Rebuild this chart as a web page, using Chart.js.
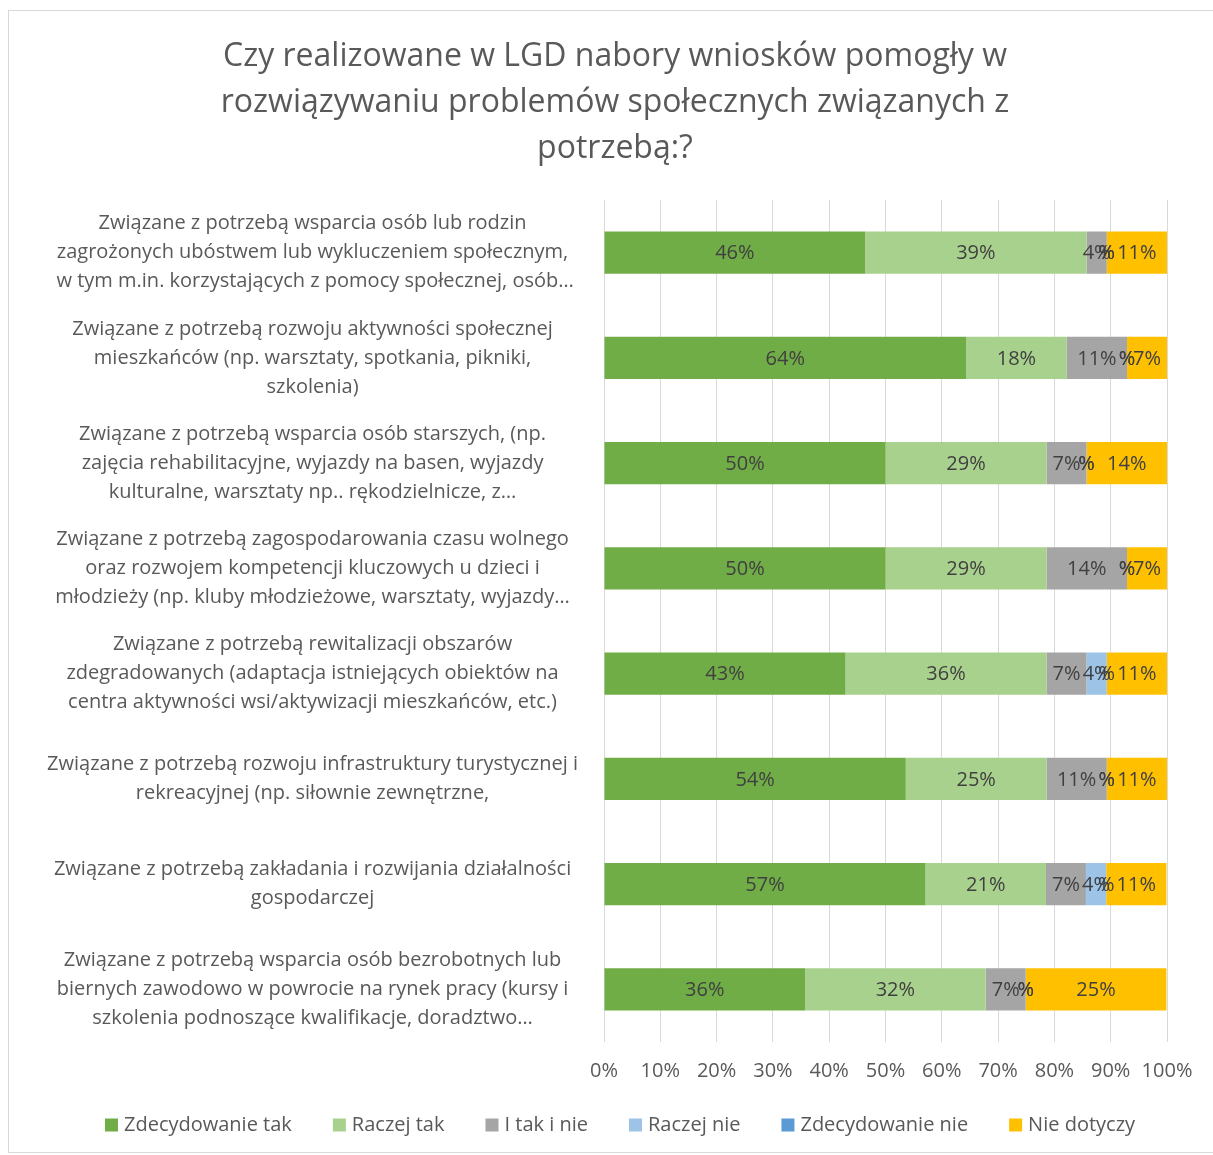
<!DOCTYPE html>
<html>
<head>
<meta charset="utf-8">
<script src="https://cdn.jsdelivr.net/npm/chart.js@4.4.0/dist/chart.umd.min.js"></script>
<style>
  body { margin: 0; background: #fff; }
  #wrap { position: relative; width: 1213px; height: 1155px; }
  #frame { position: absolute; left: 8px; top: 10px; width: 1210px; height: 1141px; border: 1px solid #d9d9d9; }
  canvas { position: absolute; left: 0; top: 0; }
</style>
</head>
<body>
<div id="wrap">
  <div id="frame"></div>
  <canvas id="myChart" width="1213" height="1155"></canvas>
</div>
<script>
// data
var categories = [
  ['Związane z potrzebą wsparcia osób lub rodzin', 'zagrożonych ubóstwem lub wykluczeniem społecznym,', ' w tym m.in. korzystających z pomocy społecznej, osób…'],
  ['Związane z potrzebą rozwoju aktywności społecznej', 'mieszkańców (np. warsztaty, spotkania, pikniki,', 'szkolenia)'],
  ['Związane z potrzebą wsparcia osób starszych, (np.', 'zajęcia rehabilitacyjne, wyjazdy na basen, wyjazdy', 'kulturalne, warsztaty np.. rękodzielnicze, z…'],
  ['Związane z potrzebą zagospodarowania czasu wolnego', 'oraz rozwojem kompetencji kluczowych u dzieci i', 'młodzieży (np. kluby młodzieżowe, warsztaty, wyjazdy…'],
  ['Związane z potrzebą rewitalizacji obszarów', 'zdegradowanych (adaptacja istniejących obiektów na', 'centra aktywności wsi/aktywizacji mieszkańców, etc.)'],
  ['Związane z potrzebą rozwoju infrastruktury turystycznej i', 'rekreacyjnej (np. siłownie zewnętrzne,'],
  ['Związane z potrzebą zakładania i rozwijania działalności', 'gospodarczej'],
  ['Związane z potrzebą wsparcia osób bezrobotnych lub', 'biernych zawodowo w powrocie na rynek pracy (kursy i', 'szkolenia podnoszące kwalifikacje, doradztwo…']
];
var seriesNames = ['Zdecydowanie tak', 'Raczej tak', 'I tak i nie', 'Raczej nie', 'Zdecydowanie nie', 'Nie dotyczy'];
var zdecydowanieTak = [46.4, 64.3, 50.0, 50.0, 42.9, 53.6, 57.1, 35.7];
var raczejTak       = [39.3, 17.9, 28.6, 28.6, 35.7, 25.0, 21.4, 32.1];
var takINie         = [3.6, 10.7, 7.1, 14.3, 7.1, 10.7, 7.1, 7.1];
var raczejNie       = [0, 0, 0, 0, 3.6, 0, 3.6, 0];
var zdecydowanieNie = [0, 0, 0, 0, 0, 0, 0, 0];
var nieDotyczy      = [10.7, 7.1, 14.3, 7.1, 10.7, 10.7, 10.7, 25.0];
var xTicks = [0, 10, 20, 30, 40, 50, 60, 70, 80, 90, 100];
var colors = ['#70AD47', '#A9D18E', '#A5A5A5', '#9DC3E6', '#5B9BD5', '#FFC000'];

var titleLines = ['Czy realizowane w LGD nabory wniosków pomogły w', 'rozwiązywaniu problemów społecznych związanych z', 'potrzebą:?'];
var FONT = '"Open Sans"';

var allSeries = [zdecydowanieTak, raczejTak, takINie, raczejNie, zdecydowanieNie, nieDotyczy];
var datasets = allSeries.map(function (vals, i) {
  return {
    label: seriesNames[i],
    data: vals,
    backgroundColor: colors[i],
    borderWidth: 0,
    barPercentage: 0.8,
    categoryPercentage: 0.5
  };
});

// title centred on the whole picture, not on the plot
var bigTitle = {
  id: 'bigTitle',
  afterDraw: function (chart) {
    var ctx = chart.ctx;
    ctx.save();
    ctx.font = '32px ' + FONT;
    ctx.fillStyle = '#595959';
    ctx.textAlign = 'center';
    ctx.textBaseline = 'middle';
    titleLines.forEach(function (t, i) {
      ctx.fillText(t, 615, 57 + i * 46);
    });
    ctx.restore();
  }
};

// legend row drawn by hand (centred on the picture)
var bottomLegend = {
  id: 'bottomLegend',
  afterDraw: function (chart) {
    var ctx = chart.ctx;
    var gap = 41, box = 13, boxGap = 6, y = 1125;
    ctx.save();
    ctx.font = '20px ' + FONT;
    ctx.textBaseline = 'middle';
    ctx.textAlign = 'left';
    var items = chart.data.datasets.map(function (ds) {
      return { text: ds.label, color: ds.backgroundColor, w: box + boxGap + ctx.measureText(ds.label).width };
    });
    var total = items.reduce(function (s, it) { return s + it.w; }, 0) + gap * (items.length - 1);
    var x = 620 - total / 2;
    items.forEach(function (it) {
      ctx.fillStyle = it.color;
      ctx.fillRect(x, y - box / 2, box, box);
      ctx.fillStyle = '#595959';
      ctx.fillText(it.text, x + box + boxGap, y);
      x += it.w + gap;
    });
    ctx.restore();
  }
};

// labels on bars
var barLabels = {
  id: 'barLabels',
  afterDatasetsDraw: function (chart) {
    var ctx = chart.ctx;
    ctx.save();
    ctx.font = '20px ' + FONT;
    ctx.fillStyle = '#404040';
    ctx.textAlign = 'center';
    ctx.textBaseline = 'middle';
    chart.data.datasets.forEach(function (ds, i) {
      var meta = chart.getDatasetMeta(i);
      meta.data.forEach(function (bar, j) {
        var v = ds.data[j];
        var txt = v ? Math.round(v) + '%' : '%';
        ctx.fillText(txt, (bar.x + bar.base) / 2, bar.y + 1);
      });
    });
    ctx.restore();
  }
};

const config = {
  type: 'bar',
  data: { labels: categories, datasets: datasets },
  options: {
    indexAxis: 'y',
    responsive: false,
    animation: false,
    layout: { padding: { left: 0, right: 46, top: 200, bottom: 55 } },
    plugins: {
      title: { display: false },
      legend: { display: false },
      tooltip: { enabled: false }
    },
    scales: {
      x: {
        stacked: true,
        min: 0,
        max: 100,
        afterBuildTicks: function (scale) {
          scale.ticks = xTicks.map(function (v) { return { value: v }; });
        },
        ticks: {
          color: '#595959',
          font: { family: FONT, size: 20 },
          padding: 17,
          maxRotation: 0,
          autoSkip: false,
          callback: function (v) { return v + '%'; }
        },
        grid: { color: '#d9d9d9', drawTicks: false },
        border: { display: false }
      },
      y: {
        stacked: true,
        afterFit: function (scale) { scale.width = 604; },
        ticks: {
          color: '#595959',
          font: { family: FONT, size: 20, lineHeight: 1.45 },
          crossAlign: 'center',
          padding: 18
        },
        grid: { display: false },
        border: { display: false }
      }
    }
  },
  plugins: [barLabels, bigTitle, bottomLegend]
};

const myChart = new Chart(document.getElementById('myChart'), config);
</script>
</body>
</html>
